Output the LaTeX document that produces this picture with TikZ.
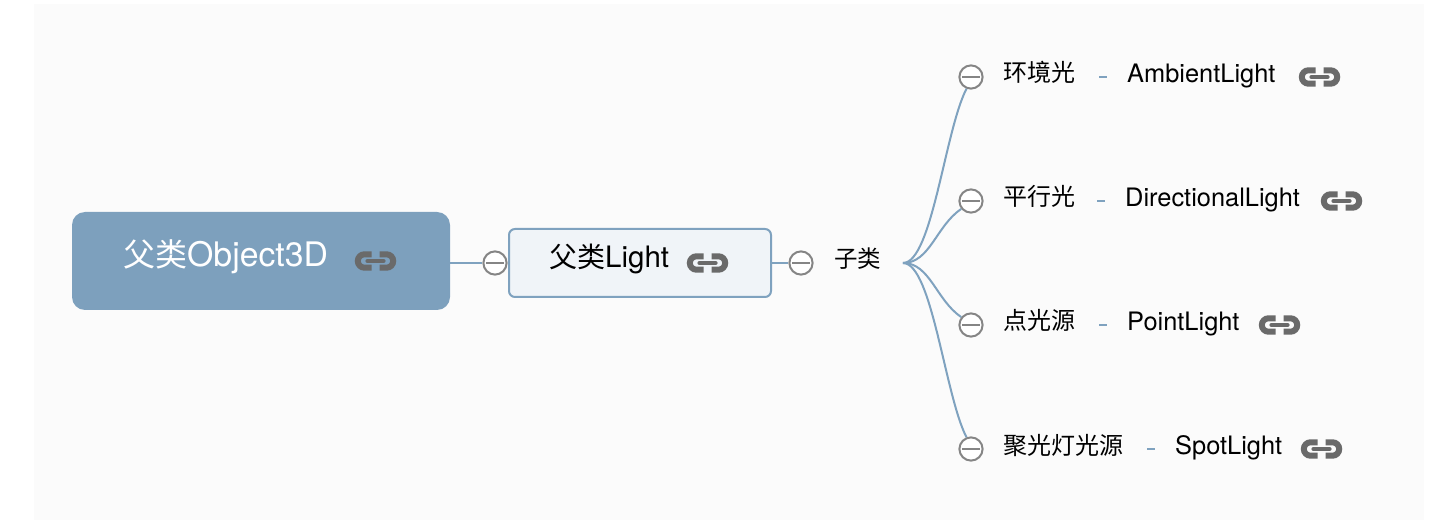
\documentclass[tikz,border=0pt]{standalone}
\usepackage{fontspec}
\setmainfont{TeX Gyre Heros}
\newfontfamily\cjk{Noto Sans CJK SC}
\definecolor{edgeblue}{HTML}{7FA2BF}
\definecolor{rootblue}{HTML}{7DA0BD}
\definecolor{subfill}{HTML}{F0F4F8}
\definecolor{bggray}{HTML}{FBFBFB}
\definecolor{toggray}{HTML}{858585}
\definecolor{linkgray}{HTML}{6A6A6A}
\newcommand{\lat}[1]{{\fontsize{25.4}{28}\selectfont\raisebox{-0.7pt}{#1}}}
\tikzset{
  x=1pt,y=-1pt,
  conn/.style={draw=edgeblue,line width=2pt},
  toggle/.style={circle,draw=toggray,fill=white,line width=2pt,minimum size=23.2pt,inner sep=0pt,
    path picture={\draw[toggray,line width=1.8pt] ([xshift=-9pt]path picture bounding box.center) -- ([xshift=9pt]path picture bounding box.center);}},
  label/.style={inner sep=0pt,anchor=base west,text=black,font=\fontsize{24}{28}\selectfont},
  dashmark/.style={inner sep=0pt,minimum width=8pt,minimum height=2pt,fill=edgeblue},
  rootbox/.style={draw=none,fill=rootblue,rounded corners=13pt,minimum width=378pt,minimum height=98pt,inner sep=0pt},
  subbox/.style={draw=edgeblue,fill=subfill,line width=2pt,rounded corners=6pt,minimum width=262pt,minimum height=68pt,inner sep=0pt},
  linkicon/.pic={
    \draw[linkgray,line width=6pt,line cap=butt] (-4,-6.7) -- (-11,-6.7) arc[start angle=-90,end angle=-270,radius=6.7] -- (-4,6.7);
    \draw[linkgray,line width=6pt,line cap=butt] (4,-6.7) -- (11,-6.7) arc[start angle=-90,end angle=90,radius=6.7] -- (4,6.7);
    \draw[linkgray,line width=4.2pt,line cap=round] (-8,0) -- (8,0);
  }
}
\begin{document}
\begin{tikzpicture}
\useasboundingbox (0,0) rectangle (1434,526);
\fill[white] (0,0) rectangle (1434,526);
\fill[bggray] (34,4) rectangle (1424,520);
% boxes
\node[rootbox] (root) at (261,261) {};
\node[subbox] (sub) at (640,263) {};
% toggles
\node[toggle] (t0) at (495,263) {};
\node[toggle] (t1) at (801,263) {};
\node[toggle] (ta) at (971,77) {};
\node[toggle] (tb) at (971,201) {};
\node[toggle] (tc) at (971,325) {};
\node[toggle] (td) at (971,449) {};
\coordinate (hub) at (903,263);
% connectors
\draw[conn] (root.east |- t0) -- (t0.west);
\draw[conn] (sub.east |- t1) -- (t1.west);
\draw[conn] (hub) .. controls (932,263) and (945,130) .. (ta.-111);
\draw[conn] (hub) .. controls (930,263) and (936,226) .. (tb.-141);
\draw[conn] (hub) .. controls (930,263) and (936,300) .. (tc.141);
\draw[conn] (hub) .. controls (932,263) and (945,396) .. (td.111);
% texts
\node[label,text=white,font=\fontsize{32}{34}\selectfont] (rt) at (123,266.5) {{\cjk 父类}{\fontsize{33.8}{36}\selectfont Object3D}};
\node[label,font=\fontsize{28}{30}\selectfont] (st) at (549,268) {{\cjk 父类}{\fontsize{29.5}{32}\selectfont Light}};
\node[label,font=\fontsize{23.5}{28}\selectfont] (z) at (834,268) {\cjk 子类};
\node[label] (a1) at (1003,82) {\cjk 环境光};
\node[label] (a2) at (1127,82) {\lat{AmbientLight}};
\node[label] (b1) at (1003,206) {\cjk 平行光};
\node[label] (b2) at (1125,206) {\lat{DirectionalLight}};
\node[label] (c1) at (1003,330) {\cjk 点光源};
\node[label] (c2) at (1127,330) {\lat{PointLight}};
\node[label] (d1) at (1003,454) {\cjk 聚光灯光源};
\node[label] (d2) at (1175,454) {\lat{SpotLight}};
% dashes
\node[dashmark] (da) at (1103,77) {};
\node[dashmark] (db) at (1101,201) {};
\node[dashmark] (dc) at (1103,325) {};
\node[dashmark] (dd) at (1151,449) {};
% link icons
\pic at (375.5,261) {linkicon};
\pic at (707.5,263) {linkicon};
\pic at (1319.5,77) {linkicon};
\pic at (1341.5,201) {linkicon};
\pic at (1279.5,325) {linkicon};
\pic at (1321.5,449) {linkicon};
\end{tikzpicture}
\end{document}
